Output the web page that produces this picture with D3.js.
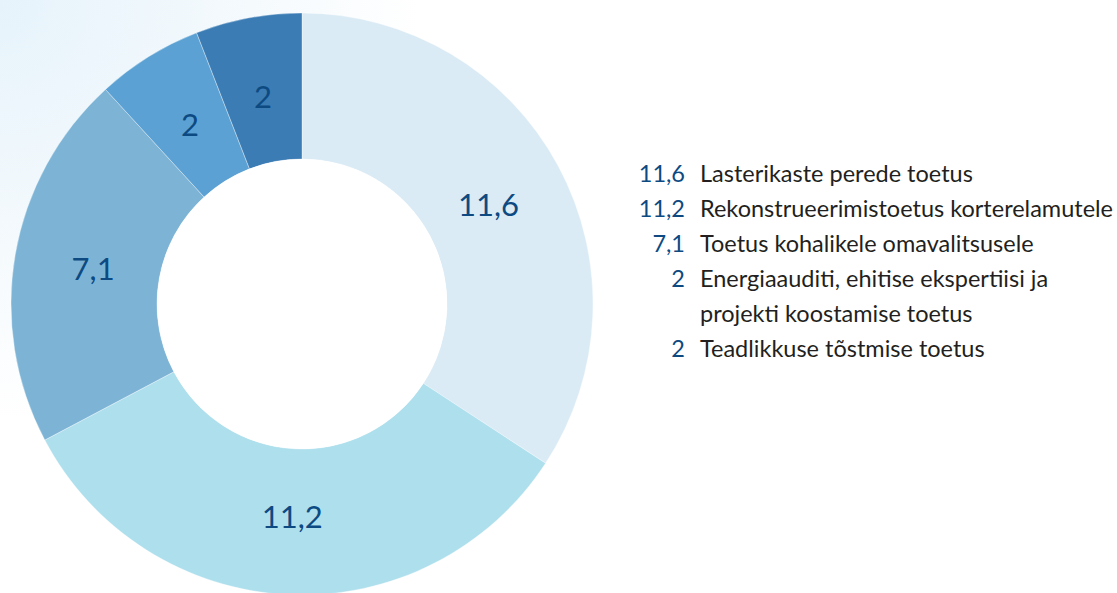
<!DOCTYPE html>
<html>
<head>
<meta charset="utf-8">
<script src="https://cdn.jsdelivr.net/npm/d3@7"></script>
<style>
  html, body { margin: 0; padding: 0; background: #fff; }
  svg { display: block; }
</style>
</head>
<body>
<svg id="chart"></svg>
<script>
const values = [11.6, 11.2, 7.1, 2, 2];
const valueLabels = ['11,6', '11,2', '7,1', '2', '2'];
const legendLines = [
  ['Lasterikaste perede toetus'],
  ['Rekonstrueerimistoetus korterelamutele'],
  ['Toetus kohalikele omavalitsusele'],
  ['Energiaauditi, ehitise ekspertiisi ja', 'projekti koostamise toetus'],
  ['Teadlikkuse tõstmise toetus'],
];
const colors = ['#daebf5', '#aedfed', '#7db4d6', '#5ba1d3', '#3b7cb4'];

const opts = {
  width: 1117,
  height: 593,
  cx: 302,
  cy: 304,
  outer: 291,
  inner: 145,
  labelRadius: 212,
  legendNumX: 685,
  legendTextX: 700,
  legendTop: 182,
  lineHeight: 35,
};

const svg = d3.select('#chart')
  .attr('width', opts.width)
  .attr('height', opts.height);

// soft blue wash in the top left corner
const grad = svg.append('defs').append('radialGradient')
  .attr('id', 'bg')
  .attr('gradientUnits', 'userSpaceOnUse')
  .attr('cx', 0).attr('cy', 0).attr('r', 420);
grad.append('stop').attr('offset', 0).attr('stop-color', '#e6f3fb');
grad.append('stop').attr('offset', 0.6).attr('stop-color', '#f5fafd');
grad.append('stop').attr('offset', 1).attr('stop-color', '#ffffff');

svg.append('rect')
  .attr('width', opts.width)
  .attr('height', opts.height)
  .attr('fill', 'url(#bg)');

const pie = d3.pie().sort(null).value(d => d);
const arc = d3.arc().innerRadius(opts.inner).outerRadius(opts.outer);
const labelArc = d3.arc().innerRadius(opts.labelRadius).outerRadius(opts.labelRadius);
const arcs = pie(values);

const g = svg.append('g').attr('transform', `translate(${opts.cx},${opts.cy})`);

g.selectAll('path').data(arcs).enter()
  .append('path')
  .attr('d', arc)
  .attr('fill', (d, i) => colors[i])
  .attr('stroke', 'rgba(255,255,255,0.5)')
  .attr('stroke-width', 0.7);

// white hole
g.append('circle').attr('r', opts.inner).attr('fill', '#fff');

g.selectAll('text.val').data(arcs).enter()
  .append('text')
  .classed('val', true)
  .attr('transform', d => `translate(${labelArc.centroid(d)})`)
  .attr('text-anchor', 'middle')
  .attr('dy', '0.4em')
  .attr('font-family', 'Lato, sans-serif')
  .attr('font-size', 31)
  .attr('fill', '#0d4a82')
  .text((d, i) => valueLabels[i]);

// legend
const legend = svg.append('g').classed('legend', true);
let row = 0;
legendLines.forEach((lines, i) => {
  const y = opts.legendTop + row * opts.lineHeight;
  legend.append('text')
    .attr('x', opts.legendNumX)
    .attr('y', y)
    .attr('text-anchor', 'end')
    .attr('font-family', 'Lato, sans-serif')
    .attr('font-size', 23.5)
    .attr('fill', '#0d4a82')
    .text(valueLabels[i]);
  lines.forEach((line, j) => {
    legend.append('text')
      .attr('x', opts.legendTextX)
      .attr('y', y + j * opts.lineHeight)
      .attr('font-family', 'Lato, sans-serif')
      .attr('font-size', 23.5)
      .attr('fill', '#231f20')
      .text(line);
  });
  row += lines.length;
});
</script>
</body>
</html>
